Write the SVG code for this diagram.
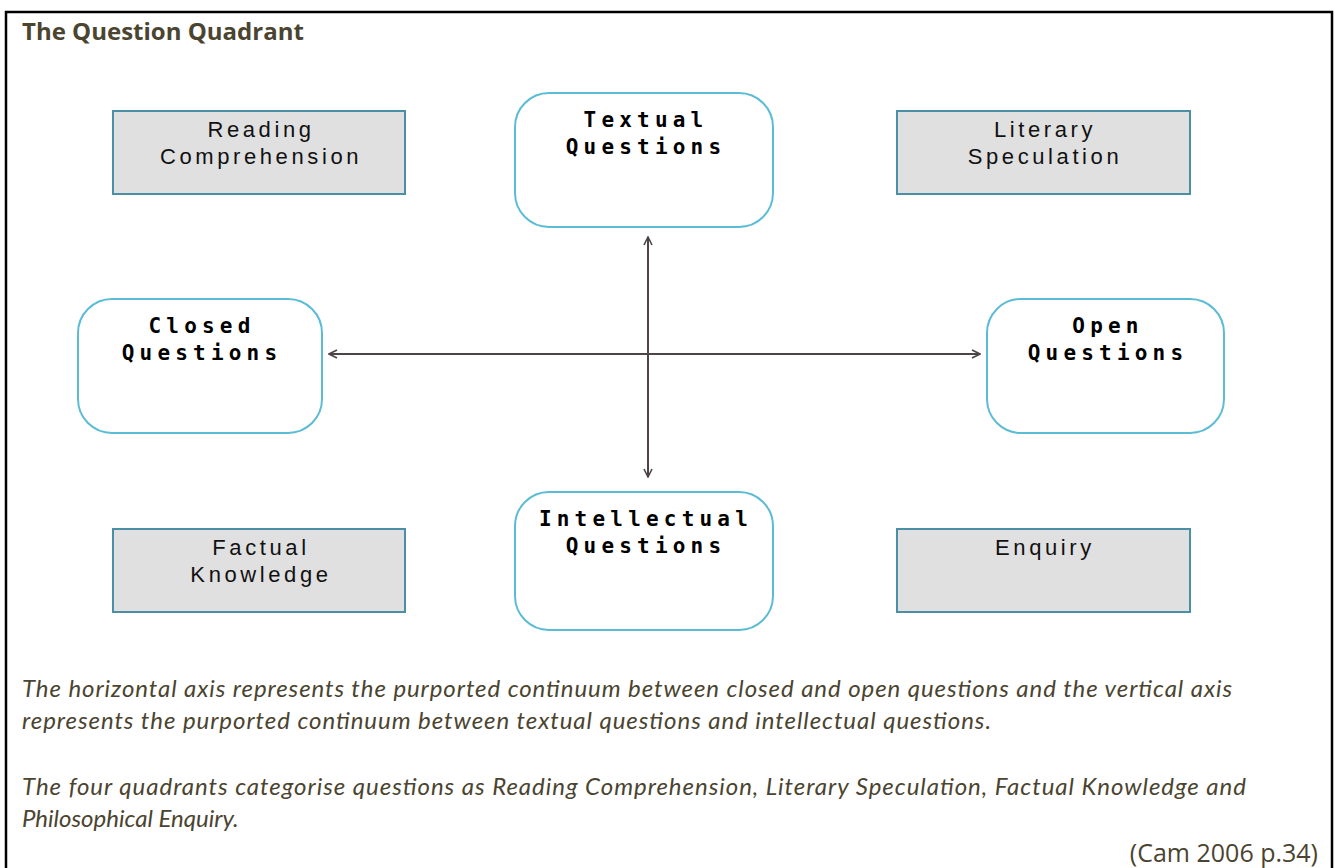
<svg xmlns="http://www.w3.org/2000/svg" width="1335" height="868" viewBox="0 0 1335 868">
<style>
.quad{fill:#e0e0e0;stroke:#4a8fa5;stroke-width:2}
.qt{font-family:"Liberation Sans",Arial,sans-serif;font-size:22px;letter-spacing:3.6px;fill:#111;text-anchor:middle}
.axis{fill:#fff;stroke:#5bbcd6;stroke-width:2}
.at{font-family:"DejaVu Sans Mono","Liberation Mono",monospace;font-weight:bold;font-size:21px;letter-spacing:5.2px;fill:#000;text-anchor:middle}
.conn{stroke:#4d4545;stroke-width:2;fill:none}
.cap{font-family:Lato,"Open Sans",sans-serif;font-style:italic;font-size:24px;fill:#4a4430}
</style>
<defs>
<marker id="ah" viewBox="0 0 10 10" refX="9" refY="5" markerWidth="10" markerHeight="10" markerUnits="userSpaceOnUse" orient="auto-start-reverse">
<path d="M1,1 L9,5 L1,9" fill="none" stroke="#4d4545" stroke-width="1.6"/>
</marker>
</defs>
<rect width="1335" height="868" fill="#fff"/>
<path d="M6,868 V12 H1332 V868" fill="none" stroke="#000" stroke-width="2.5"/>
<text x="22" y="40" font-family="'Open Sans','Liberation Sans',sans-serif" font-weight="bold" font-size="24" fill="#4a4430">The Question Quadrant</text>

<g id="connectors">
<line class="conn" x1="329" y1="354" x2="980" y2="354" marker-start="url(#ah)" marker-end="url(#ah)"/>
<line class="conn" x1="648" y1="237" x2="648" y2="477" marker-start="url(#ah)" marker-end="url(#ah)"/>
</g>

<g id="reading">
<rect class="quad" x="113" y="111" width="292" height="83"/>
<text class="qt" x="261" y="137">Reading</text>
<text class="qt" x="261" y="164">Comprehension</text>
</g>
<g id="literary">
<rect class="quad" x="897" y="111" width="293" height="83"/>
<text class="qt" x="1045" y="137">Literary</text>
<text class="qt" x="1045" y="164">Speculation</text>
</g>
<g id="factual">
<rect class="quad" x="113" y="529" width="292" height="83"/>
<text class="qt" x="261" y="555">Factual</text>
<text class="qt" x="261" y="582">Knowledge</text>
</g>
<g id="enquiry">
<rect class="quad" x="897" y="529" width="293" height="83"/>
<text class="qt" x="1045" y="555">Enquiry</text>
</g>

<g id="textual">
<rect class="axis" x="515" y="93" width="258" height="134" rx="34"/>
<text class="at" x="646" y="127">Textual</text>
<text class="at" x="646" y="154">Questions</text>
</g>
<g id="closed">
<rect class="axis" x="78" y="299" width="244" height="134" rx="34"/>
<text class="at" x="202" y="333">Closed</text>
<text class="at" x="202" y="360">Questions</text>
</g>
<g id="open">
<rect class="axis" x="987" y="299" width="237" height="134" rx="34"/>
<text class="at" x="1108" y="333">Open</text>
<text class="at" x="1108" y="360">Questions</text>
</g>
<g id="intellectual">
<rect class="axis" x="515" y="492" width="258" height="138" rx="34"/>
<text class="at" x="646" y="526">Intellectual</text>
<text class="at" x="646" y="553">Questions</text>
</g>

<text class="cap" x="22" y="697" textLength="1210" lengthAdjust="spacing">The horizontal axis represents the purported continuum between closed and open questions and the vertical axis</text>
<text class="cap" x="22" y="729" textLength="969" lengthAdjust="spacing">represents the purported continuum between textual questions and intellectual questions.</text>
<text class="cap" x="22" y="795" textLength="1224" lengthAdjust="spacing">The four quadrants categorise questions as Reading Comprehension, Literary Speculation, Factual Knowledge and</text>
<text class="cap" x="22" y="827">Philosophical Enquiry.</text>
<text x="1318" y="862" text-anchor="end" font-family="'Open Sans','Liberation Sans',sans-serif" font-size="25" fill="#4a4430">(Cam 2006 p.34)</text>
</svg>
